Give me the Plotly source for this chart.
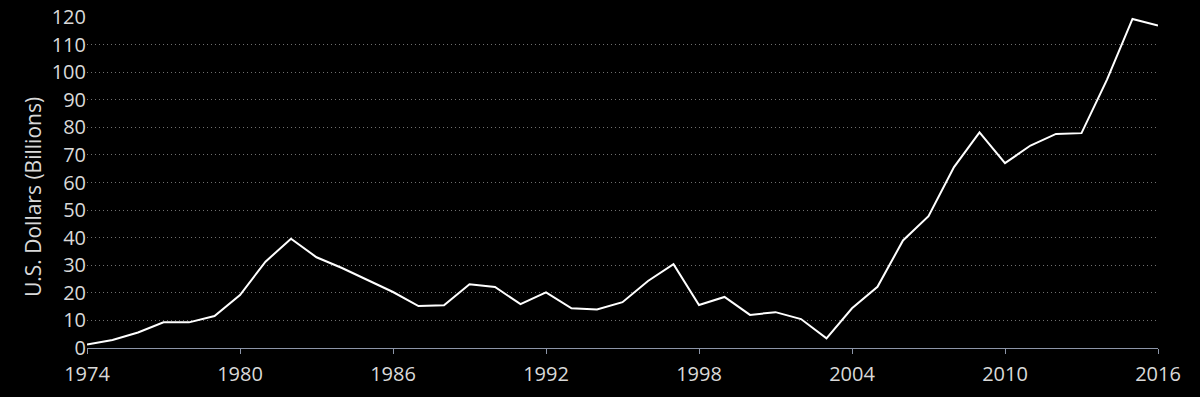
import plotly.graph_objects as go

years = list(range(1974, 2017))
values = [1.3, 2.9, 5.6, 9.3, 9.3, 11.6, 19.2, 31.3, 39.6, 32.9, 29.0, 24.7, 20.3,
          15.2, 15.5, 23.1, 22.1, 15.9, 20.2, 14.4, 14.0, 16.6, 24.3, 30.4,
          15.6, 18.5, 12.0, 13.0, 10.5, 3.5, 14.4, 22.2, 39.0, 47.8, 65.6,
          78.2, 67.0, 73.4, 77.6, 77.9, 97.3, 119.3, 116.9]
x_ticks = [1974, 1980, 1986, 1992, 1998, 2004, 2010, 2016]
y_ticks = list(range(0, 130, 10))
y_title = "U.S. Dollars (Billions)"

fig = go.Figure()
fig.add_trace(go.Scatter(x=years, y=values, mode="lines",
                         line=dict(color="#ffffff", width=2), hoverinfo="x+y"))

font_family = "Open Sans, DejaVu Sans, sans-serif"
fig.update_layout(
    width=1200, height=397, autosize=False,
    paper_bgcolor="#000000", plot_bgcolor="#000000",
    margin=dict(l=87, r=42, t=17, b=49, pad=0),
    showlegend=False,
    font=dict(family=font_family, color="#d9d9d9", size=20),
    xaxis=dict(range=[1974, 2016], tickvals=x_ticks, ticktext=[str(t) for t in x_ticks],
               showgrid=False, zeroline=False, showline=True, linecolor="#8c95a8",
               linewidth=1, ticks="outside", ticklen=5, tickcolor="#8c95a8",
               ticklabelstandoff=3, automargin=False,
               tickfont=dict(size=20, color="#d9d9d9")),
    yaxis=dict(range=[0, 120], tickvals=y_ticks, showgrid=True, gridcolor="#707070",
               griddash="1px,3px", gridwidth=1, zeroline=False, showline=False,
               ticks="", ticklen=0, automargin=False,
               tickfont=dict(size=20, color="#d9d9d9")),
    annotations=[dict(text=y_title, xref="paper", yref="paper", x=-0.0504, y=0.456,
                      xanchor="center", yanchor="middle", textangle=-90, showarrow=False,
                      font=dict(size=21, color="#d9d9d9"))],
)

fig.write_html("out.html", config={"displayModeBar": False},
               post_script="document.body.style.margin='0';document.body.style.background='#000';")
